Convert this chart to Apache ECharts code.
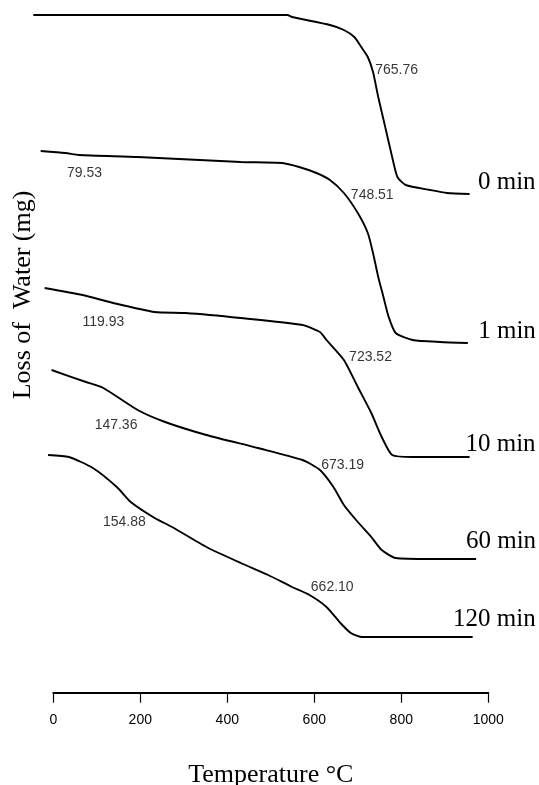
<!DOCTYPE html>
<html><head><meta charset="utf-8">
<script src="https://cdn.jsdelivr.net/npm/echarts@6/dist/echarts.min.js"></script>
<style>html,body{margin:0;padding:0;background:#fff}#c{width:539px;height:785px}</style>
</head><body><div id="c"></div>
<script>
// Temperature (°C) and offset weight readings for each hydration time
const seriesNames = ['0 min', '1 min', '10 min', '60 min', '120 min'];

const t0 = [-46, 100, 300, 538, 549, 636, 668, 692, 708, 723, 735, 747, 763, 779, 791, 810, 866, 905, 957];
const w0 = [56.5, 56.5, 56.5, 56.5, 56.3, 55.5, 55.0, 54.3, 53.3, 52.3, 50.8, 48.3, 45.3, 42.3, 40.3, 39.5, 39.0, 38.7, 38.6];

const t1 = [-29, 28, 59, 194, 431, 526, 565, 605, 636, 668, 700, 723, 735, 747, 759, 771, 787, 826, 889, 953];
const w1 = [42.9, 42.7, 42.5, 42.3, 41.8, 41.7, 41.3, 40.7, 40.0, 38.7, 36.7, 34.7, 32.7, 30.3, 28.3, 26.3, 24.7, 24.0, 23.8, 23.7];

const t10 = [-20, 67, 138, 233, 304, 431, 573, 613, 628, 668, 700, 731, 755, 779, 826, 957];
const w10 = [29.2, 28.5, 27.7, 26.8, 26.7, 26.2, 25.5, 24.8, 24.0, 22.0, 19.3, 16.7, 14.3, 12.5, 12.3, 12.3];

const t60 = [-4, 75, 115, 194, 257, 352, 470, 573, 613, 644, 668, 700, 731, 755, 787, 866, 972];
const w60 = [21.0, 19.8, 19.2, 17.0, 15.8, 14.5, 13.2, 12.0, 11.0, 9.3, 7.5, 5.8, 4.3, 3.0, 2.2, 2.1, 2.1];

const t120 = [-12, 36, 91, 146, 178, 233, 273, 352, 431, 494, 549, 589, 628, 660, 684, 708, 964];
const w120 = [12.5, 12.3, 11.2, 9.3, 7.8, 6.2, 5.3, 3.3, 1.7, 0.5, -0.7, -1.5, -2.7, -4.3, -5.3, -5.7, -5.7];

// Annotated temperatures
const annoText = ['765.76', '79.53', '748.51', '119.93', '723.52', '147.36', '673.19', '154.88', '662.10'];
const annoT = [740, 31.5, 684, 67, 680, 95, 616, 114, 592];
const annoW = [51.0, 40.7, 38.5, 25.8, 22.3, 15.5, 11.5, 5.8, -0.7];

// Axis ticks
const xTicks = [0, 200, 400, 600, 800, 1000];

const allT = [t0, t1, t10, t60, t120];
const allW = [w0, w1, w10, w60, w120];
const endOffsets = [[66, -12], [68, -12], [66, -13], [60, -18], [63, -18]];

const zip = (a, b) => a.map((v, i) => [v, b[i]]);

const serif = 'Liberation Serif';
const sans = 'Liberation Sans';

const series = seriesNames.map((name, i) => ({
  name: name,
  type: 'line',
  xAxisIndex: 0, yAxisIndex: 0,
  data: zip(allT[i], allW[i]),
  showSymbol: false,
  symbol: 'none',
  smooth: 0.2,
  clip: false,
  silent: true,
  animation: false,
  lineStyle: { color: '#000', width: 1.9 },
  endLabel: {
    show: true,
    formatter: name,
    color: '#000',
    fontFamily: serif,
    fontSize: 25,
    align: 'right',
    verticalAlign: 'middle',
    distance: 0,
    offset: endOffsets[i]
  }
}));

series.push({
  type: 'scatter',
  xAxisIndex: 0, yAxisIndex: 0,
  clip: false,
  silent: true,
  animation: false,
  symbolSize: 0,
  data: annoT.map((t, i) => ({ value: [t, annoW[i]], name: annoText[i] })),
  label: {
    show: true,
    position: 'right',
    distance: 0,
    formatter: p => p.name,
    color: '#000',
    fontFamily: sans,
    fontSize: 14
  }
});

const option = {
  backgroundColor: '#fff',
  animation: false,
  grid: [
    { left: 31.55, right: 50.7, top: 10, bottom: 205, outerBoundsMode: 'none', containLabel: false },
    { left: 53.3, right: 50.7, top: 10, bottom: 92.3, outerBoundsMode: 'none', containLabel: false }
  ],
  xAxis: [
    { gridIndex: 0, type: 'value', min: -50, max: 1000, show: false },
    {
      gridIndex: 1, type: 'value', min: xTicks[0], max: xTicks[xTicks.length - 1], interval: 200,
      position: 'bottom',
      axisLine: { show: true, lineStyle: { color: '#000', width: 2 } },
      axisTick: { show: true, length: 10, lineStyle: { color: '#000', width: 1.2 } },
      axisLabel: { color: '#000', fontFamily: sans, fontSize: 14, margin: 20, formatter: v => String(v) },
      splitLine: { show: false },
      name: 'Temperature °C',
      nameLocation: 'middle',
      nameGap: 69,
      nameTextStyle: { color: '#000', fontFamily: serif, fontSize: 26 }
    }
  ],
  yAxis: [
    {
      gridIndex: 0, type: 'value', min: 0, max: 57,
      axisLine: { show: false }, axisTick: { show: false }, axisLabel: { show: false }, splitLine: { show: false },
      name: 'Loss of  Water (mg)',
      nameLocation: 'middle',
      nameGap: -5,
      nameRotate: 90,
      nameTextStyle: { color: '#000', fontFamily: serif, fontSize: 26 }
    },
    { gridIndex: 1, type: 'value', show: false }
  ],
  series: series
};

const chart = echarts.init(document.getElementById('c'), null, { renderer: 'canvas' });
chart.setOption(option);
</script>
</body></html>
